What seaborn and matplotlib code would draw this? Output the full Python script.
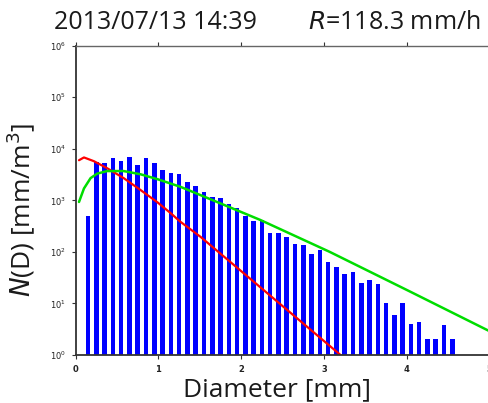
import matplotlib
matplotlib.use("Agg")
import matplotlib.pyplot as plt
import pandas as pd
import seaborn as sns

# Measured drop size distribution (bin centres in mm, N(D) in mm^-1 m^-3)
diameter = [0.15, 0.25, 0.35, 0.45, 0.55, 0.65, 0.75, 0.85, 0.95, 1.05,
            1.15, 1.25, 1.35, 1.45, 1.55, 1.65, 1.75, 1.85, 1.95, 2.05,
            2.15, 2.25, 2.35, 2.45, 2.55, 2.65, 2.75, 2.85, 2.95, 3.05,
            3.15, 3.25, 3.35, 3.45, 3.55, 3.65, 3.75, 3.85, 3.95, 4.05,
            4.15, 4.25, 4.35, 4.45, 4.55]
nd_obs = [500, 5600, 5200, 6700, 5900, 7000, 4900, 6700, 5200, 3900,
          3450, 3300, 2300, 1900, 1450, 1180, 1100, 850, 700, 505,
          400, 415, 235, 235, 196, 142, 135, 91, 109, 65,
          50, 38, 40, 24.5, 28.5, 23.5, 10, 6, 10, 4,
          4.3, 2, 2, 3.9, 2]

# Fitted curves
red_d = [0.04, 0.10, 0.22, 0.38, 0.58, 0.785, 0.99, 1.15, 1.26, 1.51, 2.19, 3.2, 3.3]
red_n = [6000, 6800, 5750, 4200, 2700, 1580, 910, 560, 390, 195, 23.4, 1.0, 0.73]
green_d = [0.04, 0.10, 0.18, 0.26, 0.38, 0.58, 0.785, 0.99, 1.27, 2.23, 3.07, 4.04, 5.0]
green_n = [930, 1700, 2700, 3300, 3700, 3700, 3200, 2570, 1820, 417, 100, 17, 2.9]

df = pd.DataFrame({"D": diameter, "N": nd_obs})

sns.set_style("ticks")

fig = plt.figure(figsize=(4.88, 4.03), dpi=100)
ax = fig.add_axes([0.1551, 0.1191, 0.848, 0.7675])

sns.histplot(data=df, x="D", weights="N", binwidth=0.1, binrange=(0.1, 4.6),
             shrink=0.55, color="#0000ff", alpha=1, linewidth=0, ax=ax)
sns.lineplot(x=red_d, y=red_n, color="#ff0000", linewidth=1.6, ax=ax)
sns.lineplot(x=green_d, y=green_n, color="#00dd00", linewidth=1.8, ax=ax)

ax.set_yscale("log")
ax.set_xlim(0, 5)
ax.set_ylim(1, 1e6)
ax.set_yticks([10.0 ** k for k in range(7)])
ax.set_yticklabels([f"$10^{k}$" for k in range(7)])
ax.minorticks_off()
ax.tick_params(axis="both", direction="out", length=3, width=0.8, pad=4,
               labelsize=6, colors="#333333", labelcolor="#222222", top=True)
for lab in ax.get_xticklabels() + ax.get_yticklabels():
    lab.set_fontweight("bold")
for name, s in ax.spines.items():
    s.set_linewidth(1.3 if name in ("left", "bottom") else 1.0)
    s.set_color("#333333" if name in ("left", "bottom") else "#666666")

ax.set_ylabel("")
ax.set_xlabel("")
txt = "#1a1a1a"
fig.text(0.568, 0.032, "Diameter [mm]", fontsize=19, family="Open Sans",
         color=txt, ha="center", va="center")
fig.text(0.042, 0.48, "$N$(D) [mm/m$^3$]", fontsize=19, family="Open Sans",
         color=txt, rotation=90, ha="center", va="center")

fig.text(0.111, 0.945, "2013/07/13 14:39", fontsize=18, family="Open Sans",
         color=txt, ha="left", va="center")
fig.text(0.984, 0.945, "$R$=118.3 mm/h", fontsize=18, family="Open Sans",
         color=txt, ha="right", va="center")

fig.savefig("out.png", dpi=100)
